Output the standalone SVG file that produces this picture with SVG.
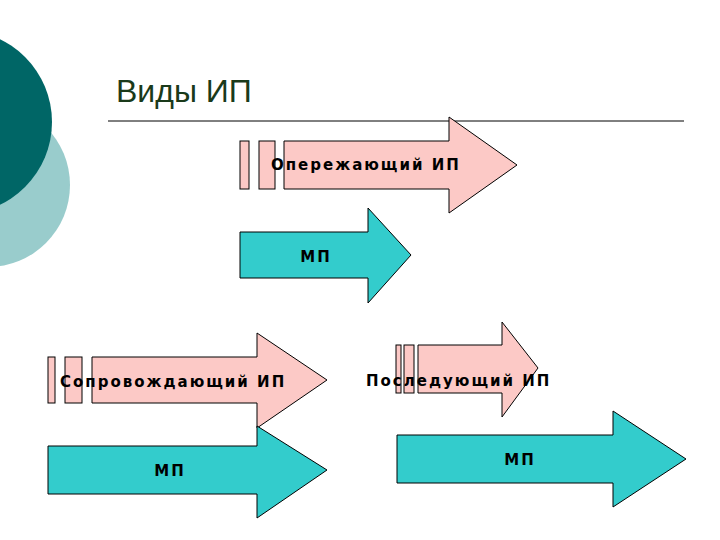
<svg xmlns="http://www.w3.org/2000/svg" width="720" height="540" viewBox="0 0 720 540">
<style>
.pk{fill:#fcc9c6;stroke:#000;stroke-width:1}
.tl{fill:#33cccc;stroke:#000;stroke-width:1}
.t{font-family:"DejaVu Sans",sans-serif;font-weight:bold;font-size:15px;fill:#000;letter-spacing:2px}
</style>
<rect width="720" height="540" fill="#fff"/>
<g id="deco">
<circle cx="-12" cy="185" r="82" fill="#99cccc"/>
<circle cx="-40" cy="122" r="92" fill="#006666"/>
</g>
<g id="title">
<text x="116" y="102" font-family="Liberation Sans,Arial,sans-serif" font-size="32" fill="#1a3a1a">Виды ИП</text>
<line x1="108" y1="121" x2="684" y2="121" stroke="#000" stroke-width="1"/>
</g>
<g id="a1">
<rect class="pk" x="240" y="141" width="9" height="48"/>
<rect class="pk" x="259" y="141" width="16" height="48"/>
<path class="pk" d="M284 141H449V117L517 165L449 213V189H284Z"/>
<text class="t" x="271" y="170">Опережающий ИП</text>
</g>
<g id="m1">
<path class="tl" d="M240 232H368V208L411 255L368 303V278H240Z"/>
<text class="t" x="316" y="262" text-anchor="middle">МП</text>
</g>
<g id="a2">
<rect class="pk" x="48" y="357" width="7" height="46"/>
<rect class="pk" x="65" y="357" width="17" height="46"/>
<path class="pk" d="M92 357H257V333L327 380L257 428V403H92Z"/>
<text class="t" x="60" y="387">Сопровождающий ИП</text>
</g>
<g id="m2">
<path class="tl" d="M48 446H257V426L327 470L257 518V494H48Z"/>
<text class="t" x="170" y="476" text-anchor="middle">МП</text>
</g>
<g id="a3">
<rect class="pk" x="396" y="345" width="5" height="48"/>
<rect class="pk" x="404" y="345" width="10" height="48"/>
<path class="pk" d="M418 345H502V322L538 368L502 417V393H418Z"/>
<text class="t" x="366" y="386">Последующий ИП</text>
</g>
<g id="m3">
<path class="tl" d="M397 435H613V411L686 459L613 507V483H397Z"/>
<text class="t" x="520" y="465" text-anchor="middle">МП</text>
</g>
</svg>
